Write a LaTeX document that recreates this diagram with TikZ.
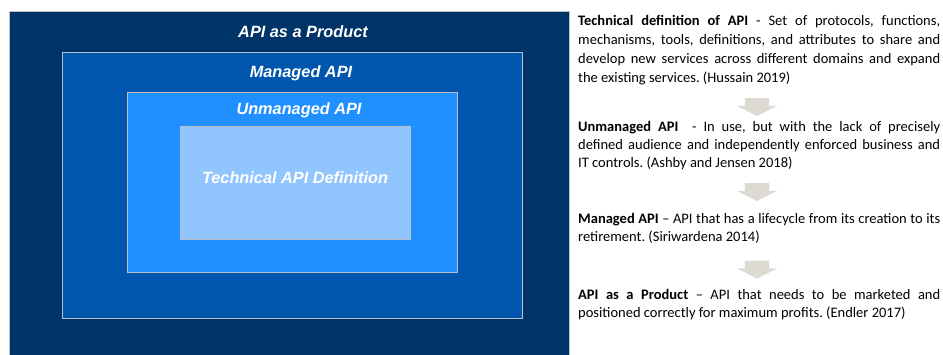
\documentclass[tikz,border=0pt]{standalone}
\usepackage{fontspec}
\setmainfont{Carlito}
\newfontfamily\boxfont{Liberation Sans}
\usetikzlibrary{positioning, shapes.arrows}

\definecolor{apiNavy}{RGB}{0,52,104}
\definecolor{apiMid}{RGB}{0,86,172}
\definecolor{apiBright}{RGB}{32,143,255}
\definecolor{apiPale}{RGB}{145,197,254}
\definecolor{frameGray}{RGB}{185,192,200}
\definecolor{stepGray}{RGB}{220,218,210}

\frenchspacing

\begin{document}
\begin{tikzpicture}[x=1pt, y=-1pt, line join=miter,
	layer/.style={draw=frameGray, line width=0.9pt, anchor=north west, inner sep=0pt},
	title/.style={font=\boxfont\bfseries\itshape\fontsize{16.3}{19}\selectfont, text=white, inner sep=0pt},
	defn/.style={anchor=base west, text width=362pt, align=justify, inner sep=0pt,
		font=\fontsize{14.5}{18}\selectfont},
	stepdown/.style={single arrow, rotate=-90, fill=stepGray, draw=none,
		inner xsep=0pt, inner ysep=12pt, minimum height=18pt, minimum width=40pt,
		single arrow head extend=8pt, single arrow tip angle=126}]

\useasboundingbox (0,0) rectangle (943,354);
\clip (0,0) rectangle (943,354);

% nested layers, outermost first
\node[layer, fill=apiNavy, minimum width=560pt, minimum height=360pt] (product) at (9,11) {};
\node[layer, fill=apiMid, minimum width=460pt, minimum height=266pt] (managed) at (62,52) {};
\node[layer, fill=apiBright, minimum width=330pt, minimum height=180pt] (unmanaged) at (127,92) {};
\node[layer, fill=apiPale, minimum width=230pt, minimum height=113pt] (technical) at (180,126) {};

\node[title] (productT) at (303,32) {API as a Product};
\node[title] (managedT) at (301,73) {Managed API};
\node[title] (unmanagedT) at (299,110) {Unmanaged API};
\node[title] (technicalT) at (295,178) {Technical API Definition};

% definitions on the right
\node[defn, font=\fontsize{14.5}{19}\selectfont] (defTech) at (578,25) {\textbf{Technical definition of API} - Set of protocols, functions,\linebreak
	mechanisms, tools, definitions, and attributes to share and\linebreak
	develop new services across different domains and expand\linebreak
	the existing services. (Hussain 2019)};
\node[defn] (defUnman) at (578,131) {\textbf{Unmanaged API}~ - In use, but with the lack of precisely\linebreak
	defined audience and independently enforced business and\linebreak
	IT controls. (Ashby and Jensen 2018)};
\node[defn] (defMan) at (578,223) {\textbf{Managed API} -- API that has a lifecycle from its creation to its\linebreak
	retirement. (Siriwardena 2014)};
\node[defn] (defProd) at (578,299) {\textbf{API as a Product} -- API that needs to be marketed and\linebreak
	positioned correctly for maximum profits. (Endler 2017)};

\node[stepdown] (step1) at (757,104) {};
\node[stepdown] (step2) at (757,189) {};
\node[stepdown] (step3) at (757,266.5) {};

\end{tikzpicture}
\end{document}
